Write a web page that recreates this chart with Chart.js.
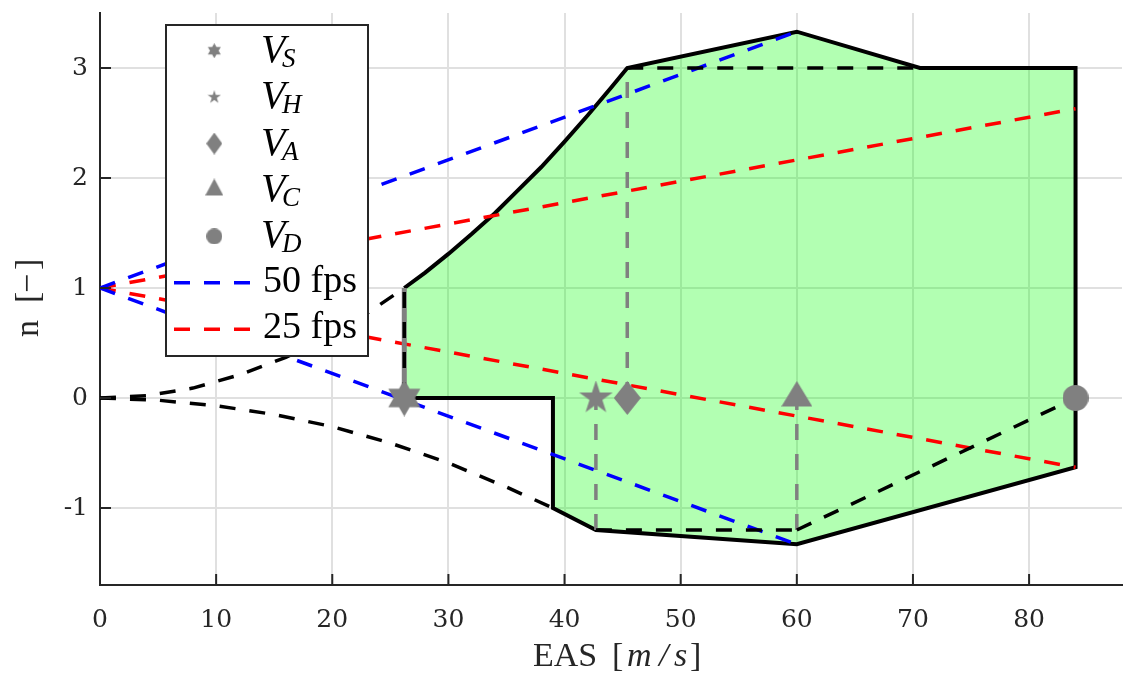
<!DOCTYPE html>
<html>
<head>
<meta charset="utf-8">
<script src="https://cdn.jsdelivr.net/npm/chart.js@4.4.1/dist/chart.umd.min.js"></script>
<style>
  html, body { margin: 0; padding: 0; background: #fff; }
  #wrap { width: 1123px; height: 679px; }
</style>
</head>
<body>
<div id="wrap"><canvas id="vn" width="1123" height="679"></canvas></div>
<script>
// V-n diagram: EAS [m/s] against load factor n

const xTicks = [0, 10, 20, 30, 40, 50, 60, 70, 80];
const yTicks = [-1, 0, 1, 2, 3];

// stall curves from the origin
const stallPosV = [0, 4, 8, 12, 16, 20, 23, 26.2];
const stallPosN = [0, 0.02, 0.09, 0.21, 0.37, 0.58, 0.77, 1.0];
const stallNegV = [0, 5, 10, 15, 20, 25, 30, 35, 39];
const stallNegN = [0, -0.02, -0.07, -0.15, -0.26, -0.41, -0.59, -0.81, -1.0];

// envelope boundary, starting at V_S on n = 1
const envV = [26.2, 28, 30, 32, 34, 36, 38, 40, 42, 44, 45.4, 60, 70.6, 84, 84, 60, 42.7, 39, 39, 26.2];
const envN = [1.0, 1.14, 1.31, 1.49, 1.68, 1.89, 2.10, 2.33, 2.57, 2.82, 3.0, 3.33, 3.0, 3.0, -0.63, -1.33, -1.2, -1.0, 0, 0];

// gust lines
const gust50V = [0, 60];
const gust50Up = [1, 3.33];
const gust50Dn = [1, -1.33];
const gust25V = [0, 84];
const gust25Up = [1, 2.63];
const gust25Dn = [1, -0.63];

// manoeuvre limits (dashed)
const nMaxV = [45.4, 70.6];
const nMaxN = [3, 3];
const nMinV = [42.7, 60];
const nMinN = [-1.2, -1.2];
const diveV = [60, 84];
const diveN = [-1.2, 0];

// characteristic speeds
const speedNames = ['S', 'H', 'A', 'C', 'D'];
const speedV = [26.2, 42.7, 45.4, 60, 84];
const speedN = [0, 0, 0, 0, 0];

const gray = '#808080';
const axisColor = '#262626';
const dash = [16, 14];

const pts = (xs, ys) => xs.map((x, i) => ({ x, y: ys[i] }));

// marker bitmaps used as point styles
function makeMarker(w, h, draw) {
  const c = document.createElement('canvas');
  c.width = Math.round(w);
  c.height = Math.round(h);
  const g = c.getContext('2d');
  g.fillStyle = gray;
  g.beginPath();
  draw(g, c.width, c.height);
  g.fill();
  return c;
}
function hexagram(R) {
  return makeMarker(2 * R, 2 * R, (g, w, h) => {
    [[-90, 30, 150], [90, 210, 330]].forEach(tri => {
      tri.forEach((a, i) => {
        const r = a * Math.PI / 180;
        const px = w / 2 + R * Math.cos(r), py = h / 2 + R * Math.sin(r);
        i ? g.lineTo(px, py) : g.moveTo(px, py);
      });
      g.closePath();
    });
  });
}
function pentagram(R) {
  return makeMarker(2 * R, 2 * R, (g, w, h) => {
    for (let i = 0; i < 10; i++) {
      const r = (-90 + i * 36) * Math.PI / 180;
      const rr = i % 2 ? R * 0.382 : R;
      const px = w / 2 + rr * Math.cos(r), py = h / 2 + rr * Math.sin(r);
      i ? g.lineTo(px, py) : g.moveTo(px, py);
    }
    g.closePath();
  });
}
function diamond(dw, dh) {
  return makeMarker(dw, dh, (g, w, h) => {
    g.moveTo(w / 2, 0); g.lineTo(w, h / 2); g.lineTo(w / 2, h); g.lineTo(0, h / 2);
    g.closePath();
  });
}
function triangle(tw, up, down) {
  return makeMarker(tw, 2 * up, (g, w) => {
    g.moveTo(w / 2, 0); g.lineTo(w, up + down); g.lineTo(0, up + down);
    g.closePath();
  });
}
function disc(r) {
  return makeMarker(2 * r, 2 * r, (g, w, h) => g.arc(w / 2, h / 2, r, 0, Math.PI * 2));
}

const plotMarkers = [hexagram(18.5), pentagram(17.7), diamond(27, 34), triangle(31, 17, 8.6), disc(13)];
const legendMarkers = [hexagram(7.5), pentagram(7), diamond(16, 22), triangle(18, 11.3, 5.7), disc(8)];

function dashed(data, color, order) {
  return {
    data, borderColor: color, borderWidth: 3.5, borderDash: dash,
    pointRadius: 0, fill: false, tension: 0, order
  };
}

// keep the plot area where the layout puts it
function fixScale(s, size) {
  if (s.isHorizontal()) s.height = size; else s.width = size;
  s.paddingTop = s.paddingBottom = s.paddingLeft = s.paddingRight = 0;
}

// ticks, axis titles and legend
const decor = {
  id: 'decor',
  afterDraw(chart) {
    const { ctx, scales: { x, y }, chartArea: a } = chart;
    ctx.save();

    ctx.strokeStyle = axisColor;
    ctx.lineWidth = 2;
    ctx.beginPath();
    xTicks.forEach(v => {
      const px = x.getPixelForValue(v);
      ctx.moveTo(px, a.bottom); ctx.lineTo(px, a.bottom - 11);
    });
    yTicks.forEach(v => {
      const py = y.getPixelForValue(v);
      ctx.moveTo(a.left, py); ctx.lineTo(a.left + 11, py);
    });
    ctx.stroke();

    // x title
    ctx.fillStyle = axisColor;
    ctx.textBaseline = 'alphabetic';
    ctx.textAlign = 'left';
    const up = '34px "Liberation Serif"';
    const it = 'italic 34px "Liberation Serif"';
    [['EAS', up, 533], ['[', up, 612], ['m', it, 627], ['/', it, 659], ['s', it, 674], [']', up, 690]]
      .forEach(([t, f, px]) => { ctx.font = f; ctx.fillText(t, px, 666); });

    // y title
    ctx.save();
    ctx.translate(37.5, 0);
    ctx.rotate(-Math.PI / 2);
    [['n', -337], ['[', -303], ['\u2212', -293], [']', -270]]
      .forEach(([t, px]) => { ctx.font = up; ctx.fillText(t, px, 0); });
    ctx.restore();

    // legend
    const bx = 166, by = 25, bw = 202, bh = 331;
    ctx.fillStyle = '#fff';
    ctx.fillRect(bx, by, bw, bh);
    ctx.strokeStyle = axisColor;
    ctx.lineWidth = 2;
    ctx.strokeRect(bx, by, bw, bh);
    const rowY = i => by + 25.7 + i * 46.43;
    speedNames.forEach((s, i) => {
      const cy = rowY(i);
      const m = legendMarkers[i];
      ctx.drawImage(m, 214.3 - m.width / 2, cy - m.height / 2);
      ctx.fillStyle = '#000';
      ctx.font = 'italic 40px "Liberation Serif"';
      ctx.fillText('V', 261, cy + 11);
      ctx.font = 'italic 27px "Liberation Serif"';
      ctx.fillText(s, 282, cy + 16);
    });
    [['50 fps', '#0000ff'], ['25 fps', '#ff0000']].forEach(([t, c], k) => {
      const cy = rowY(5 + k);
      ctx.strokeStyle = c;
      ctx.lineWidth = 3.5;
      ctx.setLineDash(dash);
      ctx.beginPath(); ctx.moveTo(174, cy); ctx.lineTo(254, cy); ctx.stroke();
      ctx.setLineDash([]);
      ctx.fillStyle = '#000';
      ctx.font = '38px "Liberation Serif"';
      ctx.fillText(t, 263, cy + 9);
    });
    ctx.restore();
  }
};

new Chart(document.getElementById('vn'), {
  type: 'line',
  data: {
    datasets: [
      {
        data: pts(speedV, speedN), showLine: false,
        pointStyle: plotMarkers, pointRadius: 12, order: 0
      },
      dashed(pts([26.2, 26.2], [0, 1]), '#000', 1),
      dashed(pts(nMaxV, nMaxN), '#000', 1),
      dashed(pts(nMinV, nMinN), '#000', 1),
      dashed(pts(diveV, diveN), '#000', 1),
      dashed(pts(stallPosV, stallPosN), '#000', 1),
      dashed(pts(stallNegV, stallNegN), '#000', 1),
      {
        data: pts([26.2, 26.2], [0, 1]), borderColor: gray, borderWidth: 5,
        pointRadius: 0, fill: false, order: 2
      },
      dashed(pts([45.4, 45.4], [0, 3]), gray, 2),
      dashed(pts([42.7, 42.7], [-1.2, 0]), gray, 2),
      dashed(pts([60, 60], [-1.2, 0]), gray, 2),
      dashed(pts(gust50V, gust50Up), '#0000ff', 3),
      dashed(pts(gust50V, gust50Dn), '#0000ff', 3),
      dashed(pts(gust25V, gust25Up), '#ff0000', 3),
      dashed(pts(gust25V, gust25Dn), '#ff0000', 3),
      {
        data: pts(envV, envN), borderColor: '#000', borderWidth: 4,
        backgroundColor: 'rgba(0, 255, 0, 0.3)', fill: 'shape',
        pointRadius: 0, tension: 0, order: 4
      }
    ]
  },
  options: {
    responsive: false,
    devicePixelRatio: 1,
    animation: false,
    layout: { autoPadding: false, padding: { top: 13, right: 1, left: 0, bottom: 0 } },
    plugins: { legend: { display: false }, tooltip: { enabled: false } },
    scales: {
      x: {
        type: 'linear', min: 0, max: 88,
        afterBuildTicks: s => { s.ticks = xTicks.map(v => ({ value: v })); },
        afterFit: s => fixScale(s, 94),
        grid: { color: '#e0e0e0', lineWidth: 2, drawTicks: false },
        border: { color: axisColor, width: 2 },
        ticks: { color: axisColor, padding: 20, maxRotation: 0, font: { family: 'DejaVu Serif', size: 25 } }
      },
      y: {
        type: 'linear', min: -1.7, max: 3.5,
        afterBuildTicks: s => { s.ticks = yTicks.map(v => ({ value: v })); },
        afterFit: s => fixScale(s, 100),
        grid: { color: '#e0e0e0', lineWidth: 2, drawTicks: false },
        border: { color: axisColor, width: 2 },
        ticks: { color: axisColor, padding: 12, font: { family: 'DejaVu Serif', size: 25 } }
      }
    }
  },
  plugins: [decor]
});
</script>
</body>
</html>
